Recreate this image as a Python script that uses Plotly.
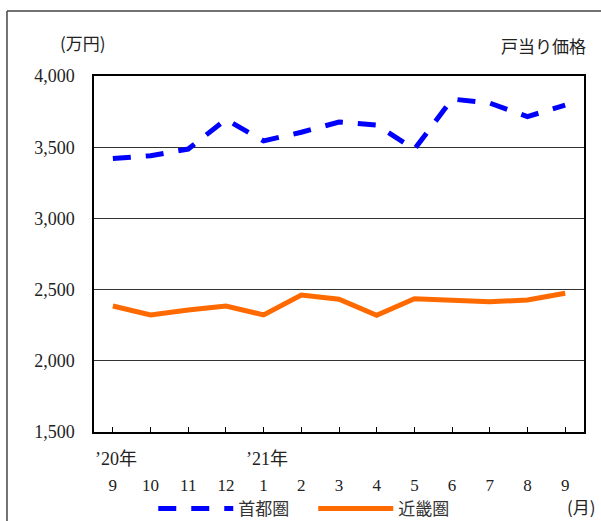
import plotly.graph_objects as go

months = ["9", "10", "11", "12", "1", "2", "3", "4", "5", "6", "7", "8", "9"]
shutoken = [3420, 3440, 3487, 3695, 3544, 3605, 3677, 3655, 3485, 3838, 3810, 3715, 3795]
kinki = [2385, 2322, 2357, 2385, 2322, 2462, 2432, 2320, 2436, 2427, 2415, 2427, 2474]
y_ticks = [1500, 2000, 2500, 3000, 3500, 4000]
year_labels = [(0, "’20年"), (4, "’21年")]

xs = list(range(len(months)))
FONT = "Liberation Serif, Noto Sans CJK JP, serif"

fig = go.Figure()
fig.add_trace(go.Scatter(x=xs, y=shutoken, mode="lines", name="首都圏",
                         line=dict(color="#0000FF", width=5, dash="18px,15px")))
fig.add_trace(go.Scatter(x=xs, y=kinki, mode="lines", name="近畿圏",
                         line=dict(color="#FF6A00", width=5)))

fig.update_layout(
    width=601, height=521,
    margin=dict(l=94, r=17, t=76, b=89, autoexpand=False),
    paper_bgcolor="white", plot_bgcolor="white",
    font=dict(family=FONT, size=18, color="#222"),
    showlegend=True,
    legend=dict(orientation="h", xref="container", yref="container",
                x=0.255, xanchor="left", y=0.023, yanchor="middle",
                font=dict(family="Noto Sans CJK JP", size=17, color="#333"),
                entrywidth=70, entrywidthmode="pixels",
                itemwidth=75, bgcolor="rgba(0,0,0,0)"),
    xaxis=dict(range=[-0.5, len(months) - 0.5], tickmode="array", tickvals=xs, ticktext=months,
               showgrid=False, showline=True, linecolor="black", linewidth=1.5, mirror=True,
               ticks="inside", ticklen=5, tickcolor="black", tickson="boundaries",
               ticklabelstandoff=37, tickfont=dict(size=17, family=FONT), zeroline=False,
               automargin=False),
    yaxis=dict(range=[1500, 4000], tickvals=y_ticks, tickformat=",",
               showgrid=True, gridcolor="#333", gridwidth=1,
               showline=True, linecolor="black", linewidth=1.5, mirror=True,
               ticks="", ticklabelstandoff=14, tickfont=dict(size=18, family=FONT), zeroline=False,
               automargin=False),
)

for idx, txt in year_labels:
    fig.add_annotation(x=idx, y=-0.075, xref="x", yref="paper", text=txt, showarrow=False,
                       xshift=3, font=dict(size=18, family=FONT), yanchor="middle")

fig.add_annotation(x=1.0286, y=-0.21, xref="paper", yref="paper", text="(月)", showarrow=False,
                   xanchor="right", font=dict(size=17, family="Noto Sans CJK JP"), yanchor="middle")
fig.add_annotation(x=0.029, y=1.095, xref="paper", yref="paper", text="(万円)", showarrow=False,
                   xanchor="right", font=dict(size=17, family="Noto Sans CJK JP"), yanchor="middle")
fig.add_annotation(x=1.008, y=1.085, xref="paper", yref="paper", text="戸当り価格", showarrow=False,
                   xanchor="right", font=dict(size=17, family="Noto Sans CJK JP"), yanchor="middle")

# outer frame (left and top edges)
fig.add_shape(type="line", xref="paper", yref="paper", x0=-0.1776, x1=-0.1776, y0=1.1826, y1=-0.26,
              line=dict(color="#444", width=1.5))
fig.add_shape(type="line", xref="paper", yref="paper", x0=-0.1776, x1=1.04, y0=1.1826, y1=1.1826,
              line=dict(color="#444", width=1.5))

fig.write_html("out.html")
